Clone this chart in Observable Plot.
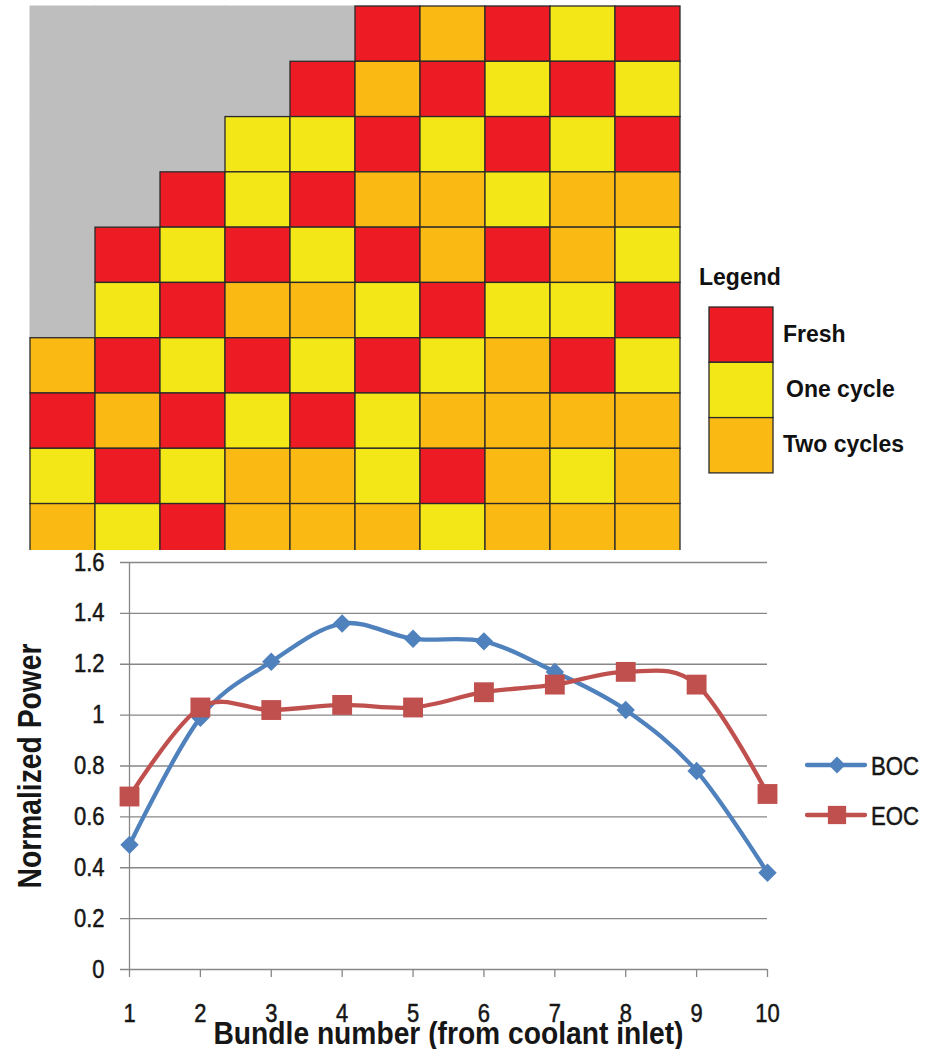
<!DOCTYPE html>
<html><head><meta charset="utf-8">
<script src="https://cdn.jsdelivr.net/npm/d3@7"></script>
<script src="https://cdn.jsdelivr.net/npm/@observablehq/plot@0.6"></script>
<style>
html,body{margin:0;padding:0;background:#fff;}
#wrap{position:relative;width:929px;height:1049px;overflow:hidden;font-family:"Liberation Sans",Arial,sans-serif;}
#wrap > svg{display:block;}
.overlay{position:absolute;left:0;top:0;pointer-events:none;}
</style></head><body><div id="wrap"></div>
<script>
// ---- Core map data (rows top to bottom, columns left to right) ----
// F = Fresh, 1 = One cycle, 2 = Two cycles, - = outside the core
const coreRows = [
  "-----F2F1F",
  "----F2F1F1",
  "---11F1F1F",
  "--F1F22122",
  "-F1F1F2F21",
  "-1F221F11F",
  "2F1F1F12F1",
  "F2F1F12222",
  "1F1221F212",
  "21F2221222"
];
const statusCodes = {"F": "Fresh", "1": "One cycle", "2": "Two cycles", "-": "Outside"};
const statusNames = ["Fresh", "One cycle", "Two cycles"];
const statusColors = ["#ED1C24", "#F4E718", "#FBB914"];
const outsideName = "Outside";
const outsideColor = "#BEBEBE";

// ---- Power profile data ----
const bundles = [1, 2, 3, 4, 5, 6, 7, 8, 9, 10];
const bocPower = [0.49, 0.99, 1.21, 1.36, 1.30, 1.29, 1.17, 1.02, 0.78, 0.38];
const eocPower = [0.68, 1.03, 1.02, 1.04, 1.03, 1.09, 1.12, 1.17, 1.12, 0.69];
const seriesNames = ["BOC", "EOC"];
const seriesColors = ["#4F81BD", "#C0504D"];
const yTicks = [0, 0.2, 0.4, 0.6, 0.8, 1.0, 1.2, 1.4, 1.6];
const yTitle = "Normalized Power";
const xTitle = "Bundle number (from coolant inlet)";
const legendTitle = "Legend";

const FONT = '"Liberation Sans", Arial, sans-serif';
const AXIS_GRAY = "#878787";
const INK = "#161616";
const wrap = document.getElementById("wrap");

// ---------- Top: core loading map ----------
const cells = coreRows.flatMap((row, r) =>
  Array.from(row, (code, c) => ({row: r, col: c, status: statusCodes[code]})));

const mapPlot = Plot.plot({
  width: 929, height: 550,
  marginLeft: 30, marginRight: 249, marginTop: 6, marginBottom: 0,
  style: {background: "white", overflow: "hidden"},
  x: {domain: [0, 10], axis: null},
  y: {domain: [0, 9.84], reverse: true, axis: null},
  color: {domain: [...statusNames, outsideName], range: [...statusColors, outsideColor]},
  marks: [
    Plot.rect(cells.filter(d => d.status === outsideName), {
      x1: "col", x2: d => d.col + 1, y1: "row", y2: d => d.row + 1,
      fill: "status", stroke: outsideColor, strokeWidth: 1
    }),
    Plot.rect(cells.filter(d => d.status !== outsideName), {
      x1: "col", x2: d => d.col + 1, y1: "row", y2: d => d.row + 1,
      fill: "status", stroke: "#2a2a2a", strokeWidth: 1.3
    })
  ]
});
wrap.appendChild(mapPlot);

// ---------- Bottom: power profile ----------
const powerData = bundles.flatMap((b, i) => [
  {bundle: b, power: bocPower[i], series: "BOC"},
  {bundle: b, power: eocPower[i], series: "EOC"}
]);
const seriesSymbols = {BOC: d3.symbolDiamond2 || "diamond", EOC: "square"};
const seriesR = {BOC: 8.3, EOC: 11.2};
const fmtY = d => String(+d.toFixed(1));

const chart = Plot.plot({
  width: 929, height: 499,
  marginLeft: 129, marginRight: 162, marginTop: 12, marginBottom: 80,
  style: {background: "white", color: INK, fontFamily: FONT, overflow: "visible"},
  x: {domain: [1, 10], axis: null},
  y: {domain: [0, 1.6], axis: null},
  color: {domain: seriesNames, range: seriesColors},
  marks: [
    // gridlines (extending left as the y-axis tick marks)
    Plot.ruleY(yTicks, {stroke: AXIS_GRAY, strokeWidth: 1.3, insetLeft: -9}),
    // y axis line
    Plot.ruleX([bundles[0]], {stroke: AXIS_GRAY, strokeWidth: 1.3}),
    // x axis tick marks below the axis
    Plot.ruleX(bundles, {x: d => d, y1: 0, y2: 0, insetBottom: -8, stroke: AXIS_GRAY, strokeWidth: 1.3}),
    // tick labels
    Plot.text(yTicks, {y: d => d, text: fmtY, frameAnchor: "left", dx: -25,
      textAnchor: "end", lineAnchor: "middle", fontSize: 25, fill: INK, stroke: INK, strokeWidth: 0.5}),
    Plot.text(bundles, {x: d => d, text: d => String(d), frameAnchor: "bottom", dy: 44,
      textAnchor: "middle", lineAnchor: "middle", fontSize: 25, fill: INK, stroke: INK, strokeWidth: 0.5}),
    // series
    ...seriesNames.flatMap(s => {
      const d = powerData.filter(p => p.series === s);
      return [
        Plot.line(d, {x: "bundle", y: "power", stroke: "series", strokeWidth: 4.3, curve: "cardinal"}),
        Plot.dot(d, {x: "bundle", y: "power", fill: "series", symbol: seriesSymbols[s], r: seriesR[s]})
      ];
    }),
    Plot.text([yTitle], {text: d => d, frameAnchor: "left", dx: -99, rotate: -90,
      textAnchor: "middle", lineAnchor: "middle", fontWeight: "bold", fontSize: 34, fill: INK}),
    Plot.text([xTitle], {text: d => d, frameAnchor: "bottom", dy: 74,
      textAnchor: "middle", lineAnchor: "bottom", fontWeight: "bold", fontSize: 31, fill: INK})
  ]
});
wrap.appendChild(chart);

// condense texts like the reference (narrow font)
const titleLengths = {[yTitle]: 245, [xTitle]: 470};
const tickLabelSet = new Set([...yTicks.map(fmtY), ...bundles.map(String)]);
d3.select(chart).selectAll("text").each(function() {
  const t = this.textContent;
  let len = null;
  if (titleLengths[t]) len = titleLengths[t];
  else if (tickLabelSet.has(t)) {
    const w = this.getComputedTextLength();
    if (w > 0) len = +(w * 0.88).toFixed(1);
  }
  if (len) {
    this.setAttribute("textLength", len);
    this.setAttribute("lengthAdjust", "spacingAndGlyphs");
    this.querySelectorAll("tspan").forEach(ts => { ts.setAttribute("textLength", len); ts.setAttribute("lengthAdjust", "spacingAndGlyphs"); });
  }
});

// ---------- Legends (overlay) ----------
const ov = d3.select(wrap).append("svg").attr("class", "overlay")
  .attr("width", 929).attr("height", 1049).style("font-family", FONT);

// Core map legend
ov.append("text").attr("x", 699).attr("y", 277).attr("dominant-baseline", "central")
  .style("font-size", "23px").attr("font-weight", "bold").attr("fill", "#111").text(legendTitle);
const swTop = 307, swH = 55.3;
statusNames.forEach((name, i) => {
  ov.append("rect").attr("x", 709).attr("y", swTop + i * swH).attr("width", 64).attr("height", swH)
    .attr("fill", statusColors[i]).attr("stroke", "#2a2a2a").attr("stroke-width", 1.3);
  ov.append("text").attr("x", i === 1 ? 786 : 783).attr("y", swTop + i * swH + swH / 2 - 1)
    .attr("dominant-baseline", "central").style("font-size", "23px").attr("font-weight", "bold")
    .attr("fill", "#111").text(name);
});

// Line legend
seriesNames.forEach((name, i) => {
  const y = 765 + i * 50;
  ov.append("line").attr("x1", 807).attr("x2", 865).attr("y1", y).attr("y2", y)
    .attr("stroke", seriesColors[i]).attr("stroke-width", 4.3).attr("stroke-linecap", "round");
  const sym = name === "BOC" ? (d3.symbolDiamond2 || d3.symbolDiamond) : d3.symbolSquare;
  const r = name === "BOC" ? 7.6 : 10.3;
  ov.append("path").attr("d", d3.symbol(sym, r * r * Math.PI)()).attr("transform", `translate(837,${y})`)
    .attr("fill", seriesColors[i]);
  ov.append("text").attr("x", 871).attr("y", y + 1).attr("dominant-baseline", "central")
    .style("font-size", "26px").attr("textLength", 48).attr("lengthAdjust", "spacingAndGlyphs")
    .attr("fill", INK).attr("stroke", INK).attr("stroke-width", 0.5).text(name);
});
</script></body></html>
